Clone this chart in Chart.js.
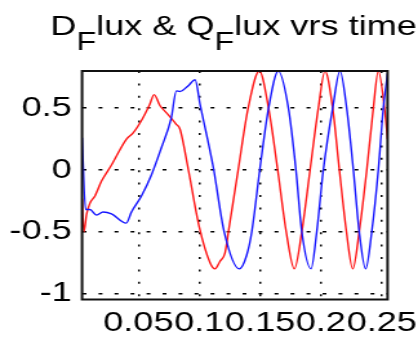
<!DOCTYPE html>
<html><head><meta charset="utf-8">
<script src="https://cdn.jsdelivr.net/npm/chart.js@4/dist/chart.umd.min.js"></script>
<style>
html,body{margin:0;padding:0;background:#fff;overflow:hidden}
</style></head>
<body><canvas id="c" width="324" height="341" style="display:block;width:418px;height:341px"></canvas>
<script>
// ---- data ----
const dFluxTime = [0.0037,0.0052,0.0074,0.0101,0.0143,0.0197,0.0279,0.0402,0.0457,0.0525,0.0593,0.0629,0.0678,0.0733,0.0811,0.0842,0.0911,0.1000,0.1089,0.1130,0.1170,0.1212,0.1240,0.1320,0.1402,0.1494,0.1570,0.1645,0.1715,0.1782,0.1843,0.1911,0.1979,0.2034,0.2097,0.2152,0.2210,0.2262,0.2315,0.2377,0.2431,0.2472,0.2525,0.2548];
const dFlux     = [-0.23,-0.50,-0.36,-0.27,-0.21,-0.09,0.04,0.25,0.30,0.40,0.53,0.61,0.52,0.46,0.37,0.33,0.00,-0.46,-0.75,-0.80,-0.74,-0.67,-0.50,0.00,0.50,0.80,0.50,0.00,-0.50,-0.80,-0.50,0.00,0.50,0.80,0.50,0.00,-0.50,-0.80,-0.50,0.00,0.50,0.80,0.48,0.25];
const qFluxTime = [0.0037,0.0066,0.0101,0.0156,0.0210,0.0279,0.0400,0.0443,0.0525,0.0607,0.0689,0.0770,0.0812,0.0840,0.0908,0.0966,0.1007,0.1116,0.1205,0.1330,0.1390,0.1432,0.1500,0.1570,0.1650,0.1733,0.1795,0.1843,0.1919,0.1966,0.2020,0.2097,0.2157,0.2212,0.2267,0.2315,0.2368,0.2418,0.2472,0.2513,0.2548];
const qFlux     = [0.26,-0.32,-0.32,-0.365,-0.34,-0.355,-0.43,-0.34,-0.21,-0.04,0.18,0.42,0.64,0.635,0.68,0.73,0.53,0.02,-0.50,-0.80,-0.69,-0.50,0.02,0.50,0.80,0.50,0.00,-0.50,-0.80,-0.50,0.00,0.50,0.80,0.50,0.00,-0.50,-0.80,-0.50,0.00,0.50,0.78];
const xTickValues = [0.05,0.1,0.15,0.2,0.25];
const xTickLabels = ['0.05','0.1','0.15','0.2','0.25'];
const yTickValues = [-1,-0.5,0,0.5];
const yTickLabels = ['-1','-0.5','0','0.5'];
const titleParts = [['D',false],['F',true],['lux & Q',false],['F',true],['lux vrs time',false]];

const FONT = "'Liberation Sans', Arial, Helvetica, sans-serif";
const pts = (t, v) => t.map((x, i) => ({x: x, y: v[i]}));

const framePlugin = {
  id: 'frameAndTitle',
  afterDraw(chart) {
    const {ctx, chartArea: a} = chart;
    ctx.save();
    ctx.strokeStyle = '#111';
    ctx.lineWidth = 2;
    ctx.strokeRect(a.left, a.top, a.right - a.left, a.bottom - a.top);
    // title with subscripts
    ctx.fillStyle = '#000';
    ctx.textBaseline = 'alphabetic';
    ctx.textAlign = 'left';
    const mainF = "28px " + FONT, subF = "25px " + FONT;
    let total = 0;
    titleParts.forEach(([s, sub]) => { ctx.font = sub ? subF : mainF; total += ctx.measureText(s).width; });
    let x = (a.left + a.right) / 2 - total / 2 - 1;
    titleParts.forEach(([s, sub]) => {
      ctx.font = sub ? subF : mainF;
      ctx.fillText(s, x, sub ? 50 : 35);
      x += ctx.measureText(s).width;
    });
    ctx.restore();
  }
};

new Chart(document.getElementById('c'), {
  type: 'scatter',
  data: {
    datasets: [
      {label: 'Q Flux', data: pts(qFluxTime, qFlux), showLine: true, borderColor: '#1414ff', borderWidth: 1.4, pointRadius: 0, cubicInterpolationMode: 'monotone', fill: false},
      {label: 'D Flux', data: pts(dFluxTime, dFlux), showLine: true, borderColor: '#ff1414', borderWidth: 1.4, pointRadius: 0, cubicInterpolationMode: 'monotone', fill: false}
    ]
  },
  options: {
    responsive: false,
    animation: false,
    devicePixelRatio: 1,
    layout: {padding: {top: 71, right: 23.6, left: 0, bottom: 0}},
    plugins: {legend: {display: false}, title: {display: false}, tooltip: {enabled: false}},
    scales: {
      x: {
        type: 'linear', min: 0.0037, max: 0.2548,
        afterBuildTicks: s => { s.ticks = xTickValues.map(v => ({value: v})); },
        afterFit: s => { s.height = 41.5; s.paddingLeft = 0; s.paddingRight = 0; },
        ticks: {autoSkip: false, maxRotation: 0, minRotation: 0, padding: 7, color: '#000',
                font: {family: FONT, size: 28}, callback: (v, i) => xTickLabels[i]},
        grid: {color: '#000', lineWidth: 1.5, drawTicks: false},
        border: {display: false, dash: [2, 10.4]}
      },
      y: {
        type: 'linear', min: -1.048, max: 0.801,
        afterBuildTicks: s => { s.ticks = yTickValues.map(v => ({value: v})); },
        afterFit: s => { s.width = 63.6; s.paddingTop = 0; s.paddingBottom = 0; },
        ticks: {padding: 8, color: '#000', font: {family: FONT, size: 28}, callback: (v, i) => yTickLabels[i]},
        grid: {color: '#000', lineWidth: 1.6, drawTicks: false},
        border: {display: false, dash: [3, 9.4]}
      }
    }
  },
  plugins: [framePlugin]
});
</script></body></html>
